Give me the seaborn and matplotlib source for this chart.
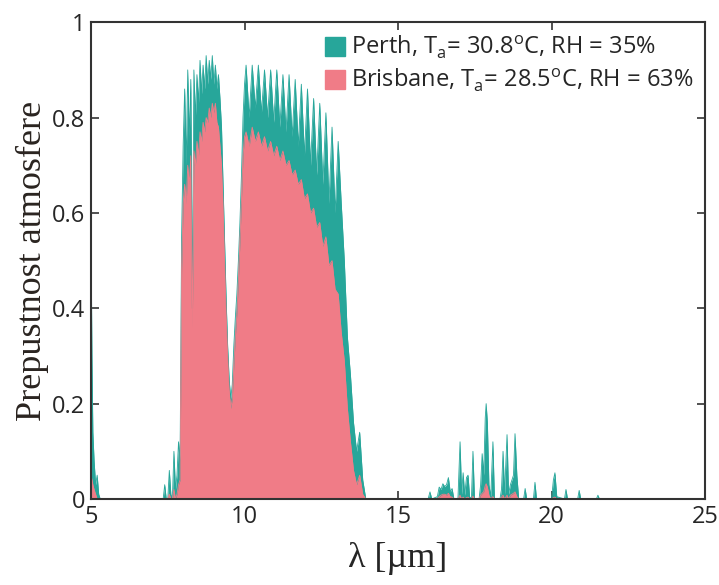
import numpy as np
import matplotlib
matplotlib.use("Agg")
import matplotlib.pyplot as plt
from matplotlib.patches import Patch
import seaborn as sns

# Atmospheric transmittance
# near 5 um edge
wl_edge = [5.00, 5.03, 5.06, 5.10, 5.15, 5.20, 5.25, 5.30]
perth_edge = [0.55, 0.30, 0.14, 0.08, 0.03, 0.05, 0.01, 0.0]
bris_edge = [0.05, 0.04, 0.03, 0.02, 0.01, 0.0, 0.0, 0.0]

# main window 7.3 - 10 um (ozone dip at 9.6)
wl_win1 = [7.30, 7.35, 7.40, 7.45, 7.50, 7.55, 7.60, 7.65, 7.70, 7.75,
           7.80, 7.85, 7.90, 7.95, 8.00, 8.05, 8.10, 8.15, 8.20, 8.25,
           8.30, 8.35, 8.40, 8.45, 8.50, 8.55, 8.60, 8.65, 8.70, 8.75,
           8.80, 8.85, 8.90, 8.95, 9.00, 9.05, 9.10, 9.15, 9.20, 9.25,
           9.30, 9.35, 9.40, 9.45, 9.50, 9.55, 9.60, 9.65, 9.70, 9.75,
           9.80, 9.85, 9.90, 9.95, 10.00, 10.05]
perth_win1 = [0.00, 0.00, 0.03, 0.00, 0.00, 0.06, 0.01, 0.00, 0.10, 0.02,
              0.05, 0.12, 0.08, 0.55, 0.74, 0.86, 0.70, 0.90, 0.76, 0.88,
              0.40, 0.90, 0.80, 0.89, 0.83, 0.92, 0.85, 0.91, 0.86, 0.93,
              0.87, 0.92, 0.88, 0.93, 0.87, 0.91, 0.86, 0.89, 0.84, 0.78,
              0.66, 0.54, 0.42, 0.32, 0.25, 0.21, 0.24, 0.32, 0.38, 0.43,
              0.50, 0.58, 0.68, 0.80, 0.87, 0.91]
bris_win1 = [0.00, 0.00, 0.00, 0.00, 0.00, 0.01, 0.00, 0.00, 0.02, 0.00,
             0.01, 0.03, 0.04, 0.48, 0.62, 0.66, 0.62, 0.70, 0.66, 0.72,
             0.36, 0.73, 0.70, 0.75, 0.72, 0.77, 0.75, 0.79, 0.77, 0.80,
             0.79, 0.82, 0.80, 0.83, 0.81, 0.83, 0.79, 0.78, 0.74, 0.70,
             0.62, 0.50, 0.39, 0.30, 0.23, 0.19, 0.21, 0.28, 0.34, 0.39,
             0.46, 0.54, 0.63, 0.72, 0.76, 0.77]

# main window 10 - 14 um
wl_win2 = [10.15, 10.25, 10.35, 10.45, 10.55, 10.65, 10.75, 10.85, 10.95, 11.05,
           11.15, 11.25, 11.35, 11.45, 11.55, 11.65, 11.75, 11.85, 11.95, 12.05,
           12.15, 12.25, 12.35, 12.45, 12.55, 12.65, 12.75, 12.85, 12.95, 13.05,
           13.15, 13.25, 13.35, 13.45, 13.55, 13.65, 13.75, 13.85, 13.95]
perth_win2 = [0.80, 0.91, 0.82, 0.91, 0.81, 0.90, 0.80, 0.90, 0.79, 0.90,
              0.78, 0.89, 0.77, 0.89, 0.76, 0.88, 0.74, 0.87, 0.72, 0.86,
              0.70, 0.84, 0.68, 0.83, 0.66, 0.81, 0.62, 0.78, 0.60, 0.75,
              0.62, 0.50, 0.34, 0.26, 0.16, 0.10, 0.14, 0.04, 0.00]
bris_win2 = [0.74, 0.78, 0.75, 0.77, 0.74, 0.76, 0.73, 0.75, 0.72, 0.74,
             0.71, 0.73, 0.70, 0.71, 0.68, 0.69, 0.66, 0.67, 0.63, 0.64,
             0.60, 0.61, 0.57, 0.58, 0.53, 0.55, 0.49, 0.50, 0.44, 0.43,
             0.35, 0.29, 0.19, 0.12, 0.06, 0.03, 0.05, 0.01, 0.00]

# weak lines 16 - 22 um
wl_far = [15.90, 15.98, 16.04, 16.10, 16.28, 16.34, 16.40, 16.46, 16.52, 16.58,
          16.64, 16.70, 16.76, 16.82, 16.95, 17.02, 17.07, 17.12, 17.17, 17.23,
          17.28, 17.33, 17.39, 17.44, 17.49, 17.64, 17.69, 17.74, 17.79, 17.84,
          17.87, 17.91, 17.96, 18.02, 18.09, 18.14, 18.32, 18.37, 18.42, 18.47,
          18.55, 18.60, 18.66, 18.71, 18.76, 18.81, 18.87, 18.93, 19.09, 19.14,
          19.19, 19.41, 19.46, 19.51, 20.00, 20.06, 20.11, 20.17, 20.42, 20.47,
          20.52, 20.85, 20.90, 20.95, 21.46, 21.51, 21.56, 25.00]
perth_far = [0.0, 0.0, 0.015, 0.0, 0.005, 0.025, 0.02, 0.032, 0.026, 0.03,
             0.045, 0.015, 0.022, 0.0, 0.0, 0.12, 0.01, 0.055, 0.008, 0.045,
             0.05, 0.005, 0.0, 0.10, 0.0, 0.0, 0.03, 0.095, 0.05, 0.17,
             0.20, 0.16, 0.03, 0.005, 0.12, 0.0, 0.0, 0.02, 0.10, 0.01,
             0.135, 0.01, 0.03, 0.04, 0.05, 0.137, 0.05, 0.0, 0.0, 0.022,
             0.0, 0.0, 0.035, 0.0, 0.0, 0.04, 0.055, 0.005, 0.0, 0.02,
             0.0, 0.0, 0.018, 0.0, 0.0, 0.008, 0.0, 0.0]
bris_far = [0.0, 0.0, 0.0, 0.0, 0.0, 0.005, 0.008, 0.01, 0.01, 0.008,
            0.012, 0.005, 0.004, 0.0, 0.0, 0.008, 0.0, 0.004, 0.0, 0.003,
            0.004, 0.0, 0.0, 0.006, 0.0, 0.0, 0.008, 0.012, 0.015, 0.028,
            0.032, 0.025, 0.008, 0.0, 0.005, 0.0, 0.0, 0.004, 0.008, 0.0,
            0.008, 0.0, 0.008, 0.01, 0.012, 0.015, 0.005, 0.0, 0.0, 0.0,
            0.0, 0.0, 0.0, 0.0, 0.0, 0.003, 0.004, 0.0, 0.0, 0.0,
            0.0, 0.0, 0.0, 0.0, 0.0, 0.0, 0.0, 0.0]

labels = [r'Perth, T$_\mathregular{a}$= 30.8$^\mathregular{o}$C, RH = 35%',
          r'Brisbane, T$_\mathregular{a}$= 28.5$^\mathregular{o}$C, RH = 63%']
teal = '#27a69a'
pink = '#f07c87'

wl = np.array(wl_edge + wl_win1 + wl_win2 + wl_far)
perth = np.array(perth_edge + perth_win1 + perth_win2 + perth_far)
bris = np.array(bris_edge + bris_win1 + bris_win2 + bris_far)

sns.set_style("ticks", {"xtick.direction": "in", "ytick.direction": "in"})
plt.rcParams['font.family'] = ['Open Sans', 'DejaVu Sans']
plt.rcParams['mathtext.fontset'] = 'custom'
plt.rcParams['mathtext.rm'] = 'Open Sans'

fig = plt.figure(figsize=(7.19, 5.85), dpi=100)
ax = fig.add_axes([0.1266, 0.147, 0.854, 0.815])

# Perth behind, Brisbane in front
sns.lineplot(x=wl, y=perth, color=teal, lw=0.6, ax=ax)
ax.fill_between(wl, 0, perth, color=teal, lw=0)
sns.lineplot(x=wl, y=bris, color=pink, lw=0.6, ax=ax)
ax.fill_between(wl, 0, bris, color=pink, lw=0)

ax.set_xlim(5, 25)
ax.set_ylim(0, 1)
ax.set_xticks([5, 10, 15, 20, 25])
ax.set_yticks([0, 0.2, 0.4, 0.6, 0.8, 1])
ax.set_yticklabels(['0', '0.2', '0.4', '0.6', '0.8', '1'])
ax.tick_params(axis='both', which='both', direction='in', top=True, right=True,
               labelsize=17, length=6, width=1.2, color='#333333', pad=4)
for s in ax.spines.values():
    s.set_color('#333333')
    s.set_linewidth(1.5)

ax.set_xlabel('λ [µm]', family='Liberation Serif', fontsize=26, labelpad=10)
ax.set_ylabel('Prepustnost atmosfere', family='Liberation Serif', fontsize=26,
              labelpad=2, color='#2a2420')

handles = [Patch(facecolor=teal, edgecolor=teal), Patch(facecolor=pink, edgecolor=pink)]
ax.legend(handles, labels, loc='upper right', frameon=False, fontsize=17,
          handlelength=0.85, handleheight=0.85, handletextpad=0.25,
          labelspacing=0.25, borderaxespad=0.1)

fig.savefig('out.png', dpi=100)
